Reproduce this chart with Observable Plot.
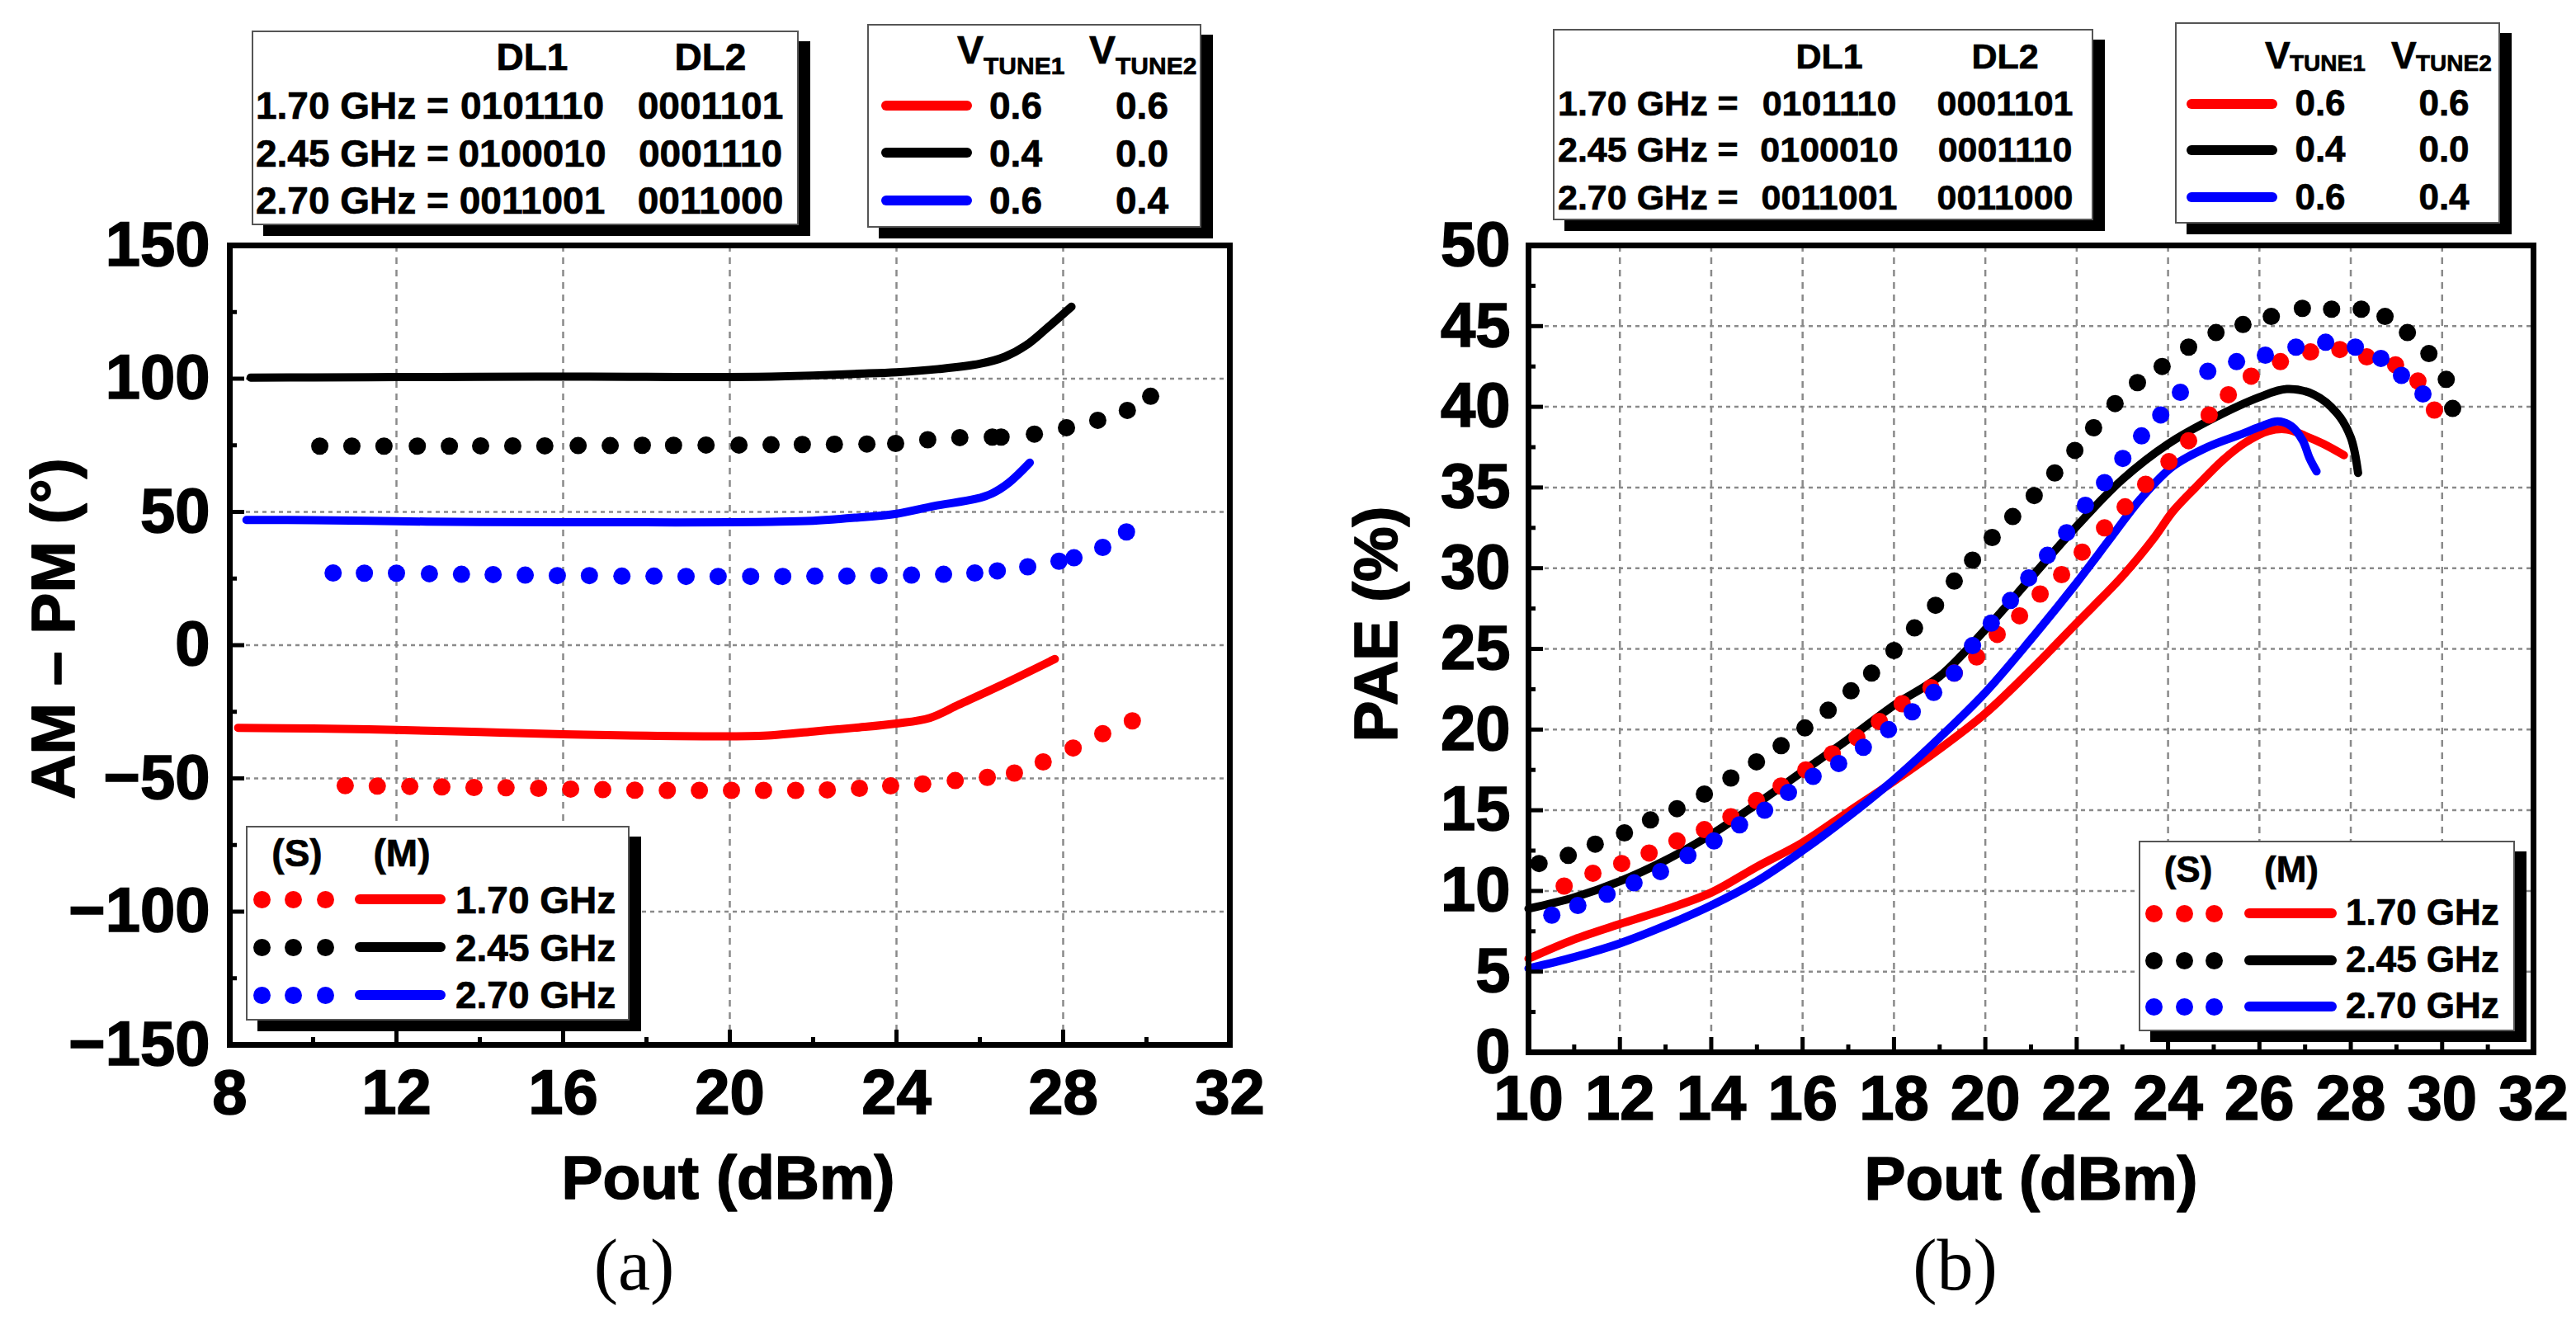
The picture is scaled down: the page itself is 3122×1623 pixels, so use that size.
<!DOCTYPE html>
<html>
<head>
<meta charset="utf-8">
<script src="https://cdn.jsdelivr.net/npm/d3@7"></script>
<script src="https://cdn.jsdelivr.net/npm/@observablehq/plot@0.6"></script>
<style>
  body { margin: 0; background: #fff; }
  #page { position: relative; width: 3122px; height: 1623px; overflow: hidden;
          font-family: "Liberation Sans", Arial, sans-serif; font-weight: bold; color: #000; }
  .chart { position: absolute; top: 0; }
  .chart g[aria-label$="tick label"] text { stroke: #000; stroke-width: 1.6px; }
  .box { position: absolute; background: #fff; border: 2px solid #555; box-sizing: border-box;
         box-shadow: 14px 13px 0 #000; z-index: 2; }
  .t { position: absolute; white-space: nowrap; line-height: 1; z-index: 3; -webkit-text-stroke: 0.7px #000; }
  .sw { position: absolute; z-index: 3; }
</style>
</head>
<body>
<div id="page"></div>
<script>
// ---- ticks ----
const xMajorA = [8, 12, 16, 20, 24, 28, 32];
const xMinorA = [10, 14, 18, 22, 26, 30];
const yMajorA = [-150, -100, -50, 0, 50, 100, 150];
const yMinorA = [-125, -75, -25, 25, 75, 125];
const xMajorB = [10, 12, 14, 16, 18, 20, 22, 24, 26, 28, 30, 32];
const xMinorB = [11, 13, 15, 17, 19, 21, 23, 25, 27, 29, 31];
const yMajorB = [0, 5, 10, 15, 20, 25, 30, 35, 40, 45, 50];
const yMinorB = [2.5, 7.5, 12.5, 17.5, 22.5, 27.5, 32.5, 37.5, 42.5, 47.5];

// ---- legend text ----
const freqs = ["1.70 GHz", "2.45 GHz", "2.70 GHz"];
const colors = ["#ff0000", "#000000", "#0000ff"];
const dl1 = ["0101110", "0100010", "0011001"];
const dl2 = ["0001101", "0001110", "0011000"];
const vTune1 = ["0.6", "0.4", "0.6"];
const vTune2 = ["0.6", "0.0", "0.4"];

// ---- (a) AM-PM, [Pout, deg] ----
const amS170 = [[10.77,-52.7],[11.54,-52.9],[12.32,-53.0],[13.09,-53.2],[13.86,-53.4],[14.63,-53.5],[15.41,-53.7],[16.18,-54.0],[16.95,-54.2],[17.72,-54.4],[18.50,-54.5],[19.27,-54.5],[20.04,-54.5],[20.81,-54.5],[21.58,-54.5],[22.34,-54.3],[23.11,-53.7],[23.86,-52.8],[24.63,-52.1],[25.41,-50.8],[26.18,-49.6],[26.83,-48.0],[27.52,-43.8],[28.24,-38.6],[28.95,-33.2],[29.66,-28.4]];
const amS245 = [[10.16,74.7],[10.93,74.7],[11.70,74.7],[12.50,74.7],[13.27,74.7],[14.02,74.8],[14.79,74.8],[15.56,74.8],[16.36,74.9],[17.13,74.9],[17.90,75.0],[18.65,75.0],[19.43,75.1],[20.22,75.1],[20.99,75.2],[21.74,75.3],[22.51,75.4],[23.29,75.5],[23.98,75.7],[24.75,77.1],[25.52,77.9],[26.30,78.1],[26.51,78.1],[27.31,79.2],[28.08,81.6],[28.83,84.4],[29.54,88.1],[30.10,93.4]];
const amS270 = [[10.48,27.1],[11.23,27.0],[12.00,27.0],[12.79,26.8],[13.56,26.6],[14.32,26.5],[15.09,26.3],[15.86,26.1],[16.63,26.1],[17.41,25.9],[18.18,25.9],[18.95,25.8],[19.72,25.8],[20.50,25.8],[21.27,25.8],[22.04,25.9],[22.81,25.9],[23.58,26.1],[24.36,26.3],[25.13,26.6],[25.88,27.1],[26.42,27.9],[27.15,29.4],[27.90,31.5],[28.26,32.8],[28.95,36.7],[29.52,42.5]];
const amM170 = [[8.2,-31.0],[10,-31.3],[12,-31.8],[14,-32.6],[16,-33.4],[18,-34.0],[20,-34.2],[21,-33.8],[22,-32.4],[23,-31.0],[24,-29.4],[24.8,-27.3],[25.5,-22.3],[26.5,-15.1],[27.8,-5.2]];
const amM245 = [[8.5,100.4],[10,100.5],[12,100.6],[14,100.7],[16,100.8],[18,100.7],[20,100.6],[21,100.8],[22,101.2],[23,101.8],[24,102.4],[25,103.6],[26,105.6],[26.6,108.2],[27.1,112.4],[27.6,118.8],[28.2,127.0]];
const amM270 = [[8.4,47.0],[10,46.9],[12,46.5],[14,46.2],[16,46.1],[18,46.1],[20,46.1],[21,46.3],[22,46.7],[23,47.8],[24,49.3],[24.9,52.2],[25.9,54.9],[26.3,57.0],[26.7,61.0],[27.2,68.5]];

// ---- (b) PAE, [Pout, %] ----
const paeS170 = [[10.78,10.3],[11.41,11.1],[12.04,11.7],[12.64,12.35],[13.25,13.1],[13.85,13.8],[14.43,14.6],[14.99,15.6],[15.53,16.5],[16.07,17.5],[16.65,18.5],[17.19,19.5],[17.68,20.5],[18.18,21.6],[18.81,22.6],[19.32,23.5],[19.81,24.5],[20.26,25.9],[20.75,27.05],[21.20,28.4],[21.67,29.6],[22.12,31.0],[22.61,32.5],[23.06,33.8],[23.51,35.2],[24.02,36.6],[24.45,37.9],[24.90,39.5],[25.32,40.75],[25.82,41.9],[26.46,42.8],[27.12,43.4],[27.76,43.55],[28.35,43.1],[28.98,42.6],[29.47,41.6],[29.83,39.8]];
const paeS245 = [[10.23,11.7],[10.87,12.2],[11.46,12.9],[12.10,13.6],[12.67,14.4],[13.25,15.1],[13.85,16.0],[14.43,17.0],[14.99,18.0],[15.53,19.0],[16.05,20.1],[16.56,21.2],[17.06,22.4],[17.51,23.5],[18.00,24.9],[18.45,26.3],[18.91,27.7],[19.32,29.2],[19.72,30.5],[20.15,31.9],[20.60,33.2],[21.07,34.5],[21.52,35.9],[21.96,37.3],[22.37,38.7],[22.84,40.2],[23.33,41.5],[23.87,42.5],[24.45,43.7],[25.05,44.6],[25.64,45.1],[26.26,45.6],[26.94,46.1],[27.58,46.05],[28.23,46.05],[28.75,45.6],[29.24,44.6],[29.71,43.3],[30.09,41.7],[30.23,39.9]];
const paeS270 = [[10.51,8.5],[11.08,9.1],[11.72,9.8],[12.31,10.5],[12.89,11.2],[13.49,12.2],[14.06,13.1],[14.62,14.1],[15.17,15.0],[15.69,16.1],[16.23,17.1],[16.79,17.9],[17.33,18.9],[17.88,20.0],[18.40,21.1],[18.87,22.3],[19.32,23.5],[19.72,25.2],[20.13,26.6],[20.55,28.0],[20.95,29.4],[21.36,30.8],[21.78,32.2],[22.19,33.9],[22.61,35.3],[23.01,36.8],[23.42,38.2],[23.84,39.5],[24.27,40.9],[24.87,42.2],[25.50,42.8],[26.13,43.2],[26.80,43.7],[27.45,44.0],[28.10,43.7],[28.66,43.0],[29.11,41.95],[29.58,40.8]];
const paeM170 = [[10,5.8],[11,7.0],[12,7.95],[13,8.85],[14,9.9],[15,11.5],[16,13.0],[17,14.9],[18,16.8],[19,18.8],[20,21.0],[21,23.7],[22,26.6],[23,29.5],[23.7,31.9],[24.1,33.5],[24.6,35.0],[25.2,36.7],[25.7,37.8],[26.2,38.5],[26.6,38.6],[27.0,38.2],[27.4,37.7],[27.85,37.0]];
const paeM245 = [[10,8.9],[11,9.6],[12,10.6],[13,11.9],[14,13.5],[15,15.4],[16,17.4],[17,19.4],[18,21.5],[19,23.3],[20,26.2],[21,29.4],[22,32.6],[23,35.5],[24,37.7],[25,39.3],[26,40.6],[26.6,41.1],[27.2,40.75],[27.7,39.6],[28.0,38.1],[28.16,35.9]];
const paeM270 = [[10,5.2],[11,5.9],[12,6.75],[13,7.85],[14,9.1],[15,10.6],[16,12.5],[17,14.6],[18,16.9],[19,19.5],[20,22.3],[21,25.6],[22,29.1],[22.75,31.9],[23.4,34.3],[24.1,36.3],[24.9,37.55],[25.6,38.3],[26.0,38.75],[26.4,39.1],[26.7,38.8],[26.95,37.9],[27.1,36.8],[27.25,36.0]];

const page = document.getElementById("page");

function makeChart(o) {
  const innerW = o.width - o.ml - o.mr;
  const innerH = o.height - o.mt - o.mb;
  const marks = [
    Plot.ruleX(o.xMajor.slice(1, -1), {stroke: "#8a8a8a", strokeWidth: 2.5, strokeDasharray: "8,7"}),
    Plot.ruleY(o.yMajor.slice(1, -1), {stroke: "#8a8a8a", strokeWidth: 2.5, strokeDasharray: "5,5"}),
  ];
  o.lines.forEach((s, i) => marks.push(Plot.line(s, {x: d => d[0], y: d => d[1], stroke: colors[i],
    strokeWidth: 10, curve: "catmull-rom", strokeLinecap: "round"})));
  o.dots.forEach((s, i) => marks.push(Plot.dot(s, {x: d => d[0], y: d => d[1], fill: colors[i], r: 10.5})));
  marks.push(
    Plot.tickX(o.xMajor, {x: d => d, insetTop: innerH - 18, strokeWidth: 5}),
    Plot.tickX(o.xMinor, {x: d => d, insetTop: innerH - 9, strokeWidth: 5}),
    Plot.tickY(o.yMajor, {y: d => d, insetRight: innerW - 18, strokeWidth: 5}),
    Plot.tickY(o.yMinor, {y: d => d, insetRight: innerW - 9, strokeWidth: 5}),
    Plot.frame({stroke: "#000", strokeWidth: 7}),
    Plot.axisX(o.xMajor, {tickSize: 0, tickPadding: o.xPad, fontSize: 76, fontWeight: "bold", label: null}),
    Plot.axisY(o.yMajor, {tickSize: 0, tickPadding: o.yPad, fontSize: 76, fontWeight: "bold", label: null}),
    Plot.text([o.yLabel], {text: d => d, frameAnchor: "left", textAnchor: "middle", rotate: -90,
      dx: o.yLabDx, dy: o.yLabDy, fontSize: 75, fontWeight: "bold", fill: "#000", stroke: "#000", strokeWidth: 1.6}),
    Plot.text(["Pout (dBm)"], {text: d => d, frameAnchor: "bottom", dx: o.xLabDx, dy: o.xLabDy,
      fontSize: 75, fontWeight: "bold", fill: "#000", stroke: "#000", strokeWidth: 1.6}),
    Plot.text([o.caption], {text: d => d, frameAnchor: "bottom", dx: o.capDx, dy: o.capDy, fill: "#000",
      fontSize: 88, fontWeight: "normal", fontFamily: "Liberation Serif, Times New Roman, serif"})
  );
  const svg = Plot.plot({
    width: o.width, height: o.height,
    marginLeft: o.ml, marginRight: o.mr, marginTop: o.mt, marginBottom: o.mb,
    x: {domain: o.xDomain}, y: {domain: o.yDomain},
    style: {fontFamily: "Liberation Sans, Arial, sans-serif", fontWeight: "bold", color: "#000",
            background: "transparent", overflow: "visible", maxWidth: "none"},
    marks
  });
  svg.classList.add("chart");
  svg.style.left = o.left + "px";
  page.append(svg);
}

makeChart({
  left: 0, width: 1560, height: 1623, ml: 278, mr: 70, mt: 297, mb: 357,
  xDomain: [8, 32], yDomain: [-150, 150],
  xMajor: xMajorA, xMinor: xMinorA, yMajor: yMajorA, yMinor: yMinorA,
  lines: [amM170, amM245, amM270], dots: [amS170, amS245, amS270],
  xPad: 30, yPad: 24,
  yLabel: "AM – PM (°)", yLabDx: -213, yLabDy: -20,
  xLabDx: -2, xLabDy: 186, caption: "(a)", capDx: -116, capDy: 296
});
makeChart({
  left: 1560, width: 1562, height: 1623, ml: 292, mr: 52, mt: 297, mb: 348,
  xDomain: [10, 32], yDomain: [0, 50],
  xMajor: xMajorB, xMinor: xMinorB, yMajor: yMajorB, yMinor: yMinorB,
  lines: [paeM170, paeM245, paeM270], dots: [paeS170, paeS245, paeS270],
  xPad: 28, yPad: 22,
  yLabel: "PAE (%)", yLabDx: -184, yLabDy: -30,
  xLabDx: 0, xLabDy: 178, caption: "(b)", capDx: -92, capDy: 287
});

// ---- legend boxes (html) ----
function box(x1, y1, x2, y2) {
  const d = document.createElement("div");
  d.className = "box";
  Object.assign(d.style, {left: x1 + "px", top: y1 + "px", width: (x2 - x1) + "px", height: (y2 - y1) + "px"});
  page.append(d);
}
function txt(s, x, base, size, center) {
  const d = document.createElement("div");
  d.className = "t";
  d.textContent = s;
  d.style.fontSize = size + "px";
  d.style.top = (base - 0.8465 * size) + "px";
  d.style.left = x + "px";
  if (center) d.style.transform = "translateX(-50%)";
  page.append(d);
}
function swLine(x1, x2, y, c) {
  const d = document.createElement("div");
  d.className = "sw";
  Object.assign(d.style, {left: x1 + "px", top: (y - 6) + "px", width: (x2 - x1) + "px", height: "12px",
    background: c, borderRadius: "6px"});
  page.append(d);
}
function swDot(x, y, c) {
  const d = document.createElement("div");
  d.className = "sw";
  Object.assign(d.style, {left: (x - 10.5) + "px", top: (y - 10.5) + "px", width: "21px", height: "21px",
    background: c, borderRadius: "50%"});
  page.append(d);
}

function codeTable(b, xs, hdrBase, rowBase, fs) {
  box(...b);
  txt("DL1", xs[1], hdrBase, fs, true);
  txt("DL2", xs[2], hdrBase, fs, true);
  freqs.forEach((f, i) => {
    txt(f + " =", xs[0], rowBase[i], fs, false);
    txt(dl1[i], xs[1], rowBase[i], fs, true);
    txt(dl2[i], xs[2], rowBase[i], fs, true);
  });
}
function tuneTable(b, v, sw, vals, rowBase, rowMid, fs) {
  box(...b);
  txt("V", v[0], v[4], v[6], false);
  txt("TUNE1", v[1], v[5], v[7], false);
  txt("V", v[2], v[4], v[6], false);
  txt("TUNE2", v[3], v[5], v[7], false);
  colors.forEach((c, i) => {
    swLine(sw[0], sw[1], rowMid[i], c);
    txt(vTune1[i], vals[0], rowBase[i], fs, true);
    txt(vTune2[i], vals[1], rowBase[i], fs, true);
  });
}
function freqLegend(b, hdr, hdrBase, dotsX, line, textX, rowMid, rowBase, fs) {
  box(...b);
  txt("(S)", hdr[0], hdrBase, fs, true);
  txt("(M)", hdr[1], hdrBase, fs, true);
  colors.forEach((c, i) => {
    dotsX.forEach(x => swDot(x, rowMid[i], c));
    swLine(line[0], line[1], rowMid[i], c);
    txt(freqs[i], textX, rowBase[i], fs, false);
  });
}

codeTable([305, 37, 968, 273], [310, 645, 861], 85, [144, 202, 259], 46);
tuneTable([1051, 29, 1456, 276], [1160, 1192, 1320, 1352, 78, 90, 48, 30], [1068, 1178], [1231, 1384],
  [144, 202, 259], [128, 185, 243], 46);
freqLegend([298, 1001, 763, 1237], [360, 487], 1050, [317, 355, 394], [430, 540], 552,
  [1090, 1148, 1206], [1107, 1165, 1222], 46);

codeTable([1882, 35, 2537, 267], [1888, 2217, 2430], 83, [140, 196, 254], 43);
tuneTable([2636, 27, 3030, 271], [2745, 2775, 2898, 2928, 83, 87, 46, 28], [2650, 2760], [2812, 2962],
  [140, 196, 254], [126, 182, 239], 44);
freqLegend([2592, 1019, 3048, 1250], [2652, 2777], 1069, [2610, 2647, 2683], [2720, 2832], 2843,
  [1107, 1164, 1220], [1121, 1178, 1234], 44);
</script>
</body>
</html>
